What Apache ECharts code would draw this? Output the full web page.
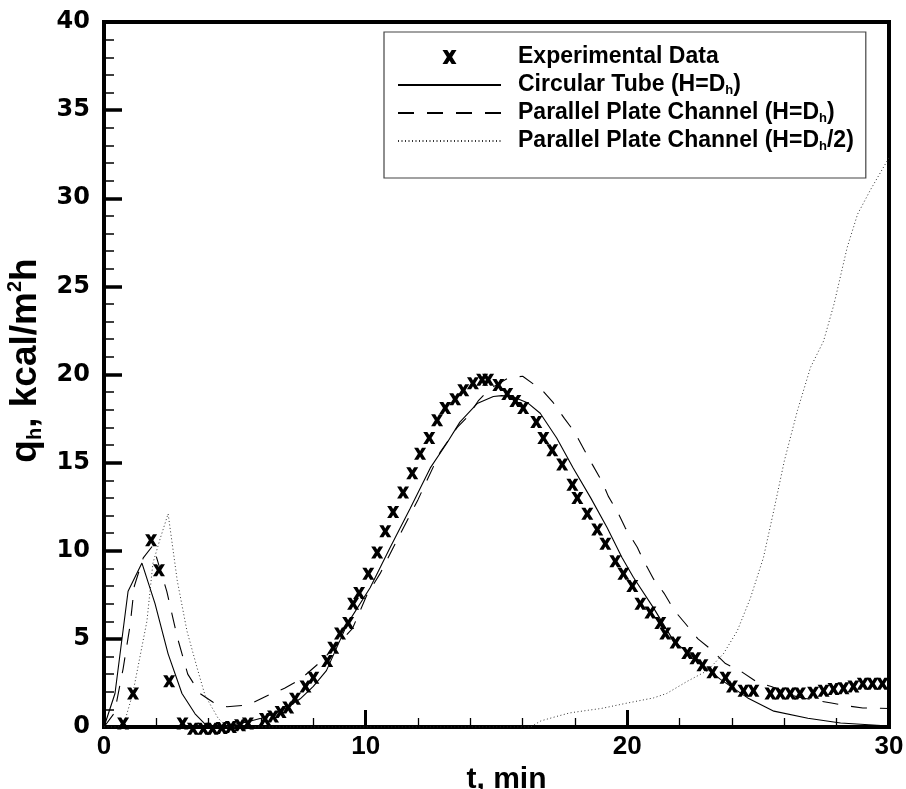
<!DOCTYPE html>
<html>
<head>
<meta charset="utf-8">
<script src="https://cdn.jsdelivr.net/npm/echarts@6/dist/echarts.min.js"></script>
<style>
html,body{margin:0;padding:0;background:#fff;}
#c{width:906px;height:789px;}
</style>
</head>
<body>
<div id="c"></div>
<script>
// ---- data ----
const expT = [0.73,1.11,1.80,2.10,2.49,3.00,3.40,3.80,4.15,4.50,4.85,5.20,5.50,6.15,6.46,6.75,7.04,7.30,7.70,8.00,8.53,8.76,9.02,9.33,9.52,9.75,10.10,10.44,10.75,11.05,11.43,11.78,12.08,12.43,12.73,13.04,13.42,13.73,14.10,14.45,14.68,15.07,15.41,15.72,16.02,16.52,16.79,17.13,17.51,17.90,18.09,18.47,18.85,19.16,19.54,19.85,20.19,20.50,20.88,21.26,21.45,21.84,22.29,22.60,22.87,23.25,23.75,24.00,24.44,24.82,25.47,25.85,26.23,26.60,27.10,27.50,27.88,28.26,28.64,29.00,29.37,29.75];
const expQ = [0.2,1.9,10.6,8.9,2.6,0.2,-0.1,-0.1,-0.1,-0.05,0.0,0.1,0.2,0.45,0.6,0.85,1.1,1.6,2.3,2.8,3.75,4.5,5.3,5.9,7.0,7.6,8.7,9.9,11.1,12.2,13.3,14.4,15.5,16.4,17.4,18.1,18.6,19.1,19.5,19.7,19.7,19.4,18.9,18.5,18.1,17.3,16.4,15.7,14.9,13.75,13.0,12.1,11.2,10.4,9.4,8.7,8.0,7.0,6.5,5.9,5.3,4.8,4.2,3.9,3.5,3.1,2.8,2.3,2.05,2.05,1.9,1.9,1.9,1.9,1.95,2.05,2.15,2.2,2.3,2.45,2.45,2.45];

const tubeT = [0,0.42,0.92,1.45,1.95,2.45,2.98,3.48,3.9,4.5,5.0,5.5,6.0,6.5,7.0,7.5,8.0,8.5,9.3,10.17,10.94,11.7,12.47,13.1,13.6,14.26,14.88,15.2,15.6,16.18,16.67,17.3,17.93,18.6,19.23,19.8,20.23,21.0,21.76,22.8,23.56,24.6,25.6,26.9,28.15,30];
const tubeQ = [0,1.9,7.7,9.3,7.0,4.15,1.9,0.75,0.1,0.05,0.15,0.3,0.5,0.75,1.1,1.6,2.3,3.2,5.85,7.9,10.2,12.4,14.7,16.1,17.3,18.35,18.75,18.8,18.75,18.4,17.8,16.4,14.7,13.0,11.3,9.6,8.5,6.76,4.9,3.6,2.7,1.65,0.9,0.5,0.23,0.06];

const plateT = [0,0.4,0.73,1.0,1.16,1.5,1.87,2.4,2.8,3.2,3.67,4.17,4.7,5.5,6.35,6.9,7.5,8.2,9.0,9.5,10.05,10.55,11.2,12.0,12.85,13.5,13.9,14.3,14.76,15.45,16.0,16.75,17.17,17.6,18.0,18.36,18.66,19.04,19.27,19.66,19.92,20.38,20.6,21.0,21.4,21.8,22.2,22.7,23.2,23.75,24.3,25.0,25.5,26.5,27.8,28.4,29.0,30.0];
const plateQ = [0,0.8,3.3,5.8,8.0,9.6,10.3,7.7,5.1,3.0,1.9,1.4,1.15,1.25,1.85,2.2,2.7,3.6,4.8,5.6,7.5,8.7,10.6,12.9,15.6,17.0,17.6,18.5,19.2,19.8,19.9,19.1,18.4,17.5,16.7,15.7,14.9,13.9,13.1,12.1,11.3,10.2,9.5,8.4,7.6,6.6,5.9,5.0,4.4,3.6,3.2,2.5,2.3,1.7,1.36,1.2,1.08,1.05];

const halfT = [0,0.73,1.1,1.64,1.87,2.15,2.45,2.8,3.17,3.55,3.86,4.36,4.7,10,16.3,16.7,17.3,17.8,18.5,19.0,20.0,21.0,21.5,22.3,23.06,23.67,24.2,24.7,25.2,25.6,26.0,26.5,27.0,27.5,27.9,28.4,28.8,29.3,30.0];
const halfQ = [0,0,1.9,6.0,9.3,10.7,12.1,8.3,5.45,3.4,1.8,0.5,0,0,0,0.35,0.6,0.8,0.95,1.05,1.36,1.65,1.9,2.6,3.2,4.15,5.45,7.3,9.6,12.3,15.1,17.95,20.4,21.9,24.0,27.2,29.1,30.5,32.3];

const seriesNames = ['Experimental Data','Circular Tube (H=Dh)','Parallel Plate Channel (H=Dh)','Parallel Plate Channel (H=Dh/2)'];
const legendLabels = ['Experimental Data','Circular Tube (H=D{sub|h})','Parallel Plate Channel (H=D{sub|h})','Parallel Plate Channel (H=D{sub|h}/2)'];
const xTitle = 't, min';
const yTitle = 'q{sub|h}, kcal/m{sup|2}h';

function pairs(t, q){ return t.map((v,i)=>[v,q[i]]); }

const SANS = "'Liberation Sans',Arial,sans-serif";
const XMARK = 'path://M0,0 L4.8,0 L7,3.6 L9.2,0 L14,0 L9.6,7 L14,14 L9.2,14 L7,10.4 L4.8,14 L0,14 L4.4,7 Z';
const HIDE = {color:'rgba(0,0,0,0)',borderWidth:0,opacity:0};

const chart = echarts.init(document.getElementById('c'), null, {renderer:'canvas'});
chart.setOption({
  animation:false,
  backgroundColor:'#fff',
  grid:{left:104,right:17,top:22,bottom:62,show:true,borderColor:'#000',borderWidth:4,containLabel:false,outerBoundsMode:'none'},
  xAxis:{
    type:'value',min:0,max:30,interval:10,
    name:xTitle,nameLocation:'middle',nameGap:21,
    nameTextStyle:{fontFamily:SANS,fontWeight:'bold',fontSize:30,color:'#000',padding:[0,0,0,20]},
    axisLine:{show:true,onZero:false,lineStyle:{color:'#000',width:4}},
    axisTick:{show:true,inside:true,length:17,lineStyle:{color:'#000',width:3}},
    minorTick:{show:true,splitNumber:5,length:9,lineStyle:{color:'#000',width:1.3}},
    splitLine:{show:false},minorSplitLine:{show:false},
    axisLabel:{margin:7,fontFamily:SANS,fontWeight:'bold',fontSize:26,color:'#000'}
  },
  yAxis:{
    type:'value',min:0,max:40,interval:5,
    name:yTitle,nameLocation:'middle',nameGap:56,
    nameTextStyle:{fontFamily:SANS,fontWeight:'bold',fontSize:37,color:'#000',lineHeight:40,padding:[0,0,0,28],
      rich:{sub:{fontFamily:SANS,fontWeight:'bold',fontSize:20,lineHeight:12,verticalAlign:'bottom',color:'#000'},
            sup:{fontFamily:SANS,fontWeight:'bold',fontSize:20,lineHeight:12,verticalAlign:'top',color:'#000'}}},
    axisLine:{show:true,onZero:false,lineStyle:{color:'#000',width:4}},
    axisTick:{show:true,inside:true,length:18,lineStyle:{color:'#000',width:3.5}},
    minorTick:{show:true,splitNumber:5,length:10,lineStyle:{color:'#000',width:1.5}},
    splitLine:{show:false},minorSplitLine:{show:false},
    axisLabel:{margin:14,fontFamily:"'DejaVu Sans',sans-serif",fontWeight:'bold',fontSize:24,color:'#000'}
  },
  legend:{
    orient:'vertical',left:384,top:32,
    padding:[13,12,25,13],itemGap:4,itemWidth:103,itemHeight:14,
    backgroundColor:'#fff',borderColor:'#444',borderWidth:1.2,
    data:[
      {name:seriesNames[0],itemStyle:{color:'#000',opacity:1}},
      {name:seriesNames[1],itemStyle:HIDE},
      {name:seriesNames[2],itemStyle:HIDE},
      {name:seriesNames[3],itemStyle:HIDE}
    ],
    formatter:function(n){ return legendLabels[seriesNames.indexOf(n)]; },
    textStyle:{fontFamily:SANS,fontWeight:'bold',fontSize:23,color:'#000',lineHeight:24,padding:[0,0,0,12],
      rich:{sub:{fontFamily:SANS,fontWeight:'bold',fontSize:13,lineHeight:10,verticalAlign:'bottom',color:'#000'}}}
  },
  series:[
    {name:seriesNames[0],type:'scatter',data:pairs(expT,expQ),symbol:XMARK,symbolSize:[12,12],clip:false,z:5,
      itemStyle:{color:'#000',opacity:1}},
    {name:seriesNames[1],type:'line',data:pairs(tubeT,tubeQ),symbol:'none',showSymbol:false,
      lineStyle:{color:'#000',width:1.1,type:'solid'},itemStyle:{color:'#000'}},
    {name:seriesNames[2],type:'line',data:pairs(plateT,plateQ),symbol:'none',showSymbol:false,
      lineStyle:{color:'#000',width:1.1,type:[16,13]},itemStyle:{color:'#000'}},
    {name:seriesNames[3],type:'line',data:pairs(halfT,halfQ),symbol:'none',showSymbol:false,
      lineStyle:{color:'#333',width:1,type:[1,2.5]},itemStyle:{color:'#333'}}
  ]
});
</script>
</body>
</html>
